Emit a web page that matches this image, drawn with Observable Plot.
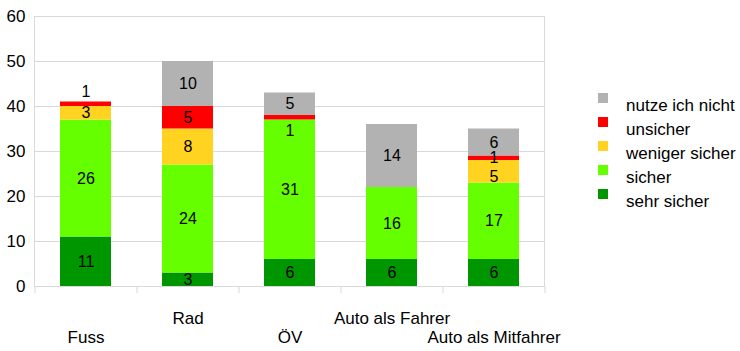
<!DOCTYPE html>
<html>
<head>
<meta charset="utf-8">
<script src="https://cdn.jsdelivr.net/npm/d3@7"></script>
<script src="https://cdn.jsdelivr.net/npm/@observablehq/plot@0.6"></script>
<style>
  html, body { margin: 0; padding: 0; background: #fff; }
  #wrap { position: relative; width: 740px; height: 351px; font-family: "Liberation Sans", Arial, sans-serif; }
  #legend { position: absolute; left: 598px; top: 93px; }
  .row { position: relative; height: 24px; }
  .sw { position: absolute; left: 0; top: 0; width: 10px; height: 10px; }
  .lb { position: absolute; left: 28px; top: 3px; font-size: 17px; line-height: normal; white-space: nowrap; color: #000; }
</style>
</head>
<body>
<div id="wrap"><div id="legend"></div></div>
<script>
const categories = ["Fuss", "Rad", "ÖV", "Auto als Fahrer", "Auto als Mitfahrer"];
const series = ["sehr sicher", "sicher", "weniger sicher", "unsicher", "nutze ich nicht"];
const sehrSicher     = [11, 3, 6, 6, 6];
const sicher         = [26, 24, 31, 16, 17];
const wenigerSicher  = [3, 8, 0, 0, 5];
const unsicher       = [1, 5, 1, 0, 1];
const nutzeIchNicht  = [0, 10, 5, 14, 6];
const yTicks = [0, 10, 20, 30, 40, 50, 60];
const colors = ["#009600", "#66ff00", "#ffd320", "#ff0000", "#b2b2b2"];

const seriesValues = [sehrSicher, sicher, wenigerSicher, unsicher, nutzeIchNicht];
const data = [];
categories.forEach((c, i) => {
  seriesValues.forEach((vals, s) => {
    data.push({category: c, series: series[s], value: vals[i]});
  });
});

// Label placement rules (avoid overlap of labels on very thin segments)
const labels = data.filter(d => d.value > 0).map(d => ({...d, pos: "center"}));
categories.forEach(c => {
  const segs = labels.filter(d => d.category === c);
  segs.forEach((d, k) => {
    if (d.value >= 2) return;
    if (k === segs.length - 1) d.pos = "above";
    else if (k > 0 && segs[k - 1].value >= 10) d.pos = "below";
    else if (k > 0) segs[k - 1].pos = "lower";
  });
});
const shift = {above: -12, below: 13, lower: 5, center: 0};

const W = 740, H = 351, ML = 34, MR = 196, MT = 16, MB = 65;
const step = (W - ML - MR) / categories.length;
const grid = "#d9d9d9";
const stackOpts = {x: "category", y: "value", z: "series", order: series};

const labelMarks = Object.keys(shift).map(p =>
  Plot.text(labels, Plot.stackY({...stackOpts, text: d => d.pos === p ? d.value : null, fontSize: 16, dy: shift[p]}))
);

const chart = Plot.plot({
  width: W, height: H,
  marginLeft: ML, marginRight: MR, marginTop: MT, marginBottom: MB,
  style: {fontFamily: "'Liberation Sans', Arial, sans-serif", fontSize: "16px", color: "#000", background: "transparent", overflow: "visible"},
  x: {domain: categories, paddingInner: 0.5, paddingOuter: 0.25, axis: null},
  y: {domain: [0, 60], axis: null, label: null},
  color: {domain: series, range: colors},
  marks: [
    Plot.gridY(yTicks, {stroke: grid, strokeOpacity: 1}),
    Plot.frame({stroke: grid}),
    Plot.ruleX(categories, {x: d => d, dx: -step / 2, y1: 0, y2: -1.6, stroke: grid}),
    Plot.ruleX(categories.slice(-1), {x: d => d, dx: step / 2, y1: 0, y2: -1.6, stroke: grid}),
    Plot.axisY(yTicks, {tickSize: 0, tickPadding: 9, fontSize: 17, tickFormat: d => d, label: null}),
    Plot.barY(data, Plot.stackY({...stackOpts, fill: "series"})),
    ...labelMarks,
    Plot.text(categories.filter((_, i) => i % 2 === 1), {x: d => d, frameAnchor: "bottom", dy: 32, lineAnchor: "middle", fontSize: 17}),
    Plot.text(categories.filter((_, i) => i % 2 === 0), {x: d => d, frameAnchor: "bottom", dy: 51, lineAnchor: "middle", fontSize: 17})
  ]
});
document.getElementById("wrap").prepend(chart);

const legend = document.getElementById("legend");
series.slice().reverse().forEach(s => {
  const row = document.createElement("div");
  row.className = "row";
  const sw = document.createElement("div");
  sw.className = "sw";
  sw.style.background = colors[series.indexOf(s)];
  const lb = document.createElement("div");
  lb.className = "lb";
  lb.textContent = s;
  row.append(sw, lb);
  legend.append(row);
});
</script>
</body>
</html>
